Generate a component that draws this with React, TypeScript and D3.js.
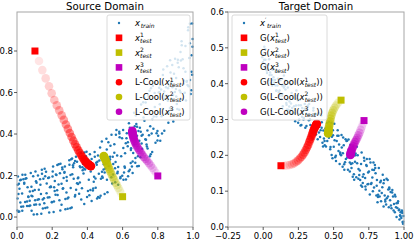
import React from 'react';
import * as d3 from 'd3';

type Pt = [number, number];

// source domain training cloud
const sourceTrain: Pt[] = [
  [0.008,0.026],[0.003,0.089],[0.002,0.031],[0.008,0.111],[0.005,0.195],
  [0.024,0.049],[0.014,0.136],[0.029,0.114],[0.019,0.070],[0.011,0.160],
  [0.036,0.182],[0.047,0.204],[0.041,0.161],[0.031,0.204],[0.046,0.073],
  [0.069,0.053],[0.057,0.075],[0.053,0.187],[0.065,0.097],[0.060,0.143],
  [0.075,0.056],[0.082,0.146],[0.087,0.100],[0.072,0.078],[0.083,0.030],
  [0.092,0.196],[0.103,0.081],[0.098,0.059],[0.108,0.173],[0.105,0.219],
  [0.124,0.131],[0.114,0.014],[0.129,0.061],[0.119,0.200],[0.111,0.165],
  [0.136,0.111],[0.147,0.041],[0.141,0.228],[0.131,0.182],[0.146,0.085],
  [0.169,0.162],[0.157,0.233],[0.153,0.090],[0.165,0.218],[0.160,0.196],
  [0.175,0.094],[0.182,0.190],[0.187,0.143],[0.172,0.046],[0.183,0.022],
  [0.192,0.147],[0.203,0.220],[0.198,0.073],[0.208,0.024],[0.205,0.244],
  [0.224,0.202],[0.214,0.126],[0.229,0.251],[0.219,0.108],[0.211,0.143],
  [0.236,0.157],[0.247,0.257],[0.241,0.081],[0.231,0.106],[0.246,0.031],
  [0.269,0.213],[0.257,0.239],[0.253,0.059],[0.265,0.188],[0.260,0.136],
  [0.275,0.038],[0.282,0.193],[0.287,0.089],[0.272,0.244],[0.283,0.175],
  [0.292,0.094],[0.303,0.042],[0.298,0.252],[0.308,0.278],[0.305,0.140],
  [0.324,0.259],[0.314,0.206],[0.329,0.099],[0.319,0.240],[0.311,0.046],
  [0.336,0.132],[0.347,0.159],[0.341,0.267],[0.331,0.106],[0.346,0.187],
  [0.369,0.139],[0.357,0.166],[0.353,0.112],[0.365,0.085],[0.360,0.240],
  [0.375,0.256],[0.382,0.063],[0.387,0.229],[0.372,0.240],[0.383,0.311],
  [0.392,0.293],[0.403,0.125],[0.398,0.097],[0.408,0.180],[0.405,0.275],
  [0.424,0.077],[0.414,0.303],[0.429,0.247],[0.419,0.219],[0.411,0.105],
  [0.436,0.170],[0.447,0.141],[0.441,0.313],[0.431,0.128],[0.446,0.186],
  [0.469,0.093],[0.457,0.267],[0.453,0.252],[0.465,0.208],[0.460,0.296],
  [0.475,0.102],[0.482,0.364],[0.487,0.189],[0.472,0.335],[0.483,0.218],
  [0.492,0.229],[0.503,0.289],[0.498,0.111],[0.508,0.377],[0.505,0.259],
  [0.524,0.271],[0.514,0.120],[0.529,0.290],[0.519,0.360],[0.511,0.180],
  [0.536,0.192],[0.547,0.255],[0.541,0.162],[0.531,0.344],[0.546,0.205],
  [0.569,0.297],[0.557,0.235],[0.553,0.310],[0.565,0.419],[0.560,0.265],
  [0.575,0.156],[0.582,0.403],[0.587,0.187],[0.572,0.218],[0.583,0.385],
  [0.592,0.293],[0.603,0.419],[0.598,0.199],[0.608,0.215],[0.605,0.180],
  [0.624,0.404],[0.614,0.307],[0.629,0.341],[0.619,0.181],[0.611,0.244],
  [0.636,0.452],[0.647,0.323],[0.641,0.228],[0.631,0.197],[0.646,0.260],
  [0.669,0.438],[0.657,0.212],[0.653,0.244],[0.665,0.502],[0.660,0.308],
  [0.675,0.489],[0.682,0.392],[0.687,0.293],[0.672,0.261],[0.683,0.245],
  [0.692,0.246],[0.703,0.411],[0.698,0.430],[0.708,0.392],[0.705,0.542],
  [0.724,0.464],[0.714,0.396],[0.729,0.375],[0.719,0.480],[0.711,0.329],
  [0.736,0.350],[0.747,0.585],[0.741,0.417],[0.731,0.552],[0.746,0.570],
  [0.769,0.473],[0.757,0.437],[0.753,0.608],[0.765,0.403],[0.760,0.302],
  [0.775,0.426],[0.782,0.598],[0.787,0.358],[0.772,0.632],[0.783,0.530],
  [0.792,0.484],[0.803,0.505],[0.798,0.415],[0.808,0.623],[0.805,0.600],
  [0.824,0.403],[0.814,0.368],[0.829,0.684],[0.819,0.614],[0.811,0.544],
  [0.836,0.605],[0.847,0.625],[0.841,0.570],[0.831,0.711],[0.846,0.499],
  [0.869,0.525],[0.857,0.560],[0.853,0.585],[0.865,0.633],[0.860,0.454],
  [0.875,0.517],[0.882,0.733],[0.887,0.588],[0.872,0.697],[0.883,0.626],
  [0.892,0.691],[0.903,0.617],[0.898,0.763],[0.908,0.545],[0.905,0.581],
  [0.924,0.610],[0.914,0.758],[0.929,0.795],[0.919,0.722],[0.911,0.520],
  [0.936,0.828],[0.947,0.642],[0.941,0.568],[0.931,0.754],[0.946,0.717],
  [0.969,0.636],[0.957,0.824],[0.953,0.599],[0.965,0.655],[0.960,0.562],
  [0.975,0.630],[0.982,0.931],[0.987,0.593],[0.972,0.900],[0.983,0.660],
  [0.992,0.780],[0.997,0.820],[0.998,0.858],[0.992,0.700],[0.995,0.933],
  // second batch
  [0.004,0.156],[0.013,0.027],[0.018,0.177],[0.035,0.051],[0.022,0.180],[0.030,0.030],
  [0.048,0.185],[0.057,0.053],[0.041,0.165],[0.064,0.099],[0.073,0.123],[0.078,0.212],
  [0.095,0.012],[0.082,0.102],[0.090,0.126],[0.108,0.060],[0.117,0.083],[0.101,0.130],
  [0.124,0.086],[0.133,0.156],[0.138,0.016],[0.155,0.066],[0.142,0.208],[0.150,0.184],
  [0.168,0.115],[0.177,0.188],[0.161,0.044],[0.184,0.095],[0.193,0.145],[0.198,0.071],
  [0.215,0.174],[0.202,0.195],[0.210,0.075],[0.228,0.129],[0.237,0.254],[0.221,0.205],
  [0.244,0.211],[0.253,0.160],[0.258,0.230],[0.275,0.087],[0.262,0.139],[0.270,0.217],
  [0.288,0.040],[0.297,0.274],[0.281,0.118],[0.304,0.203],[0.313,0.282],[0.318,0.250],
  [0.335,0.290],[0.322,0.184],[0.330,0.270],[0.348,0.191],[0.357,0.245],[0.341,0.163],
  [0.364,0.308],[0.373,0.226],[0.378,0.210],[0.395,0.315],[0.382,0.233],[0.390,0.260],
  [0.408,0.243],[0.417,0.130],[0.401,0.270],[0.424,0.280],[0.433,0.138],[0.438,0.194],
  [0.455,0.089],[0.442,0.290],[0.450,0.262],[0.468,0.272],[0.477,0.184],[0.461,0.097],
  [0.484,0.195],[0.493,0.254],[0.498,0.215],[0.515,0.266],[0.502,0.234],[0.510,0.325],
  [0.528,0.278],[0.537,0.397],[0.521,0.246],[0.544,0.291],[0.553,0.351],[0.558,0.168],
  [0.575,0.241],[0.562,0.396],[0.570,0.211],[0.588,0.193],[0.597,0.380],[0.581,0.411],
  [0.604,0.333],[0.613,0.238],[0.618,0.355],[0.635,0.221],[0.622,0.380],[0.630,0.360],
  [0.648,0.332],[0.657,0.268],[0.641,0.430],[0.664,0.349],[0.673,0.284],[0.678,0.448],
  [0.695,0.368],[0.682,0.435],[0.690,0.415],[0.708,0.354],[0.717,0.553],[0.701,0.288],
  [0.724,0.574],[0.733,0.373],[0.738,0.340],[0.755,0.293],[0.742,0.330],[0.750,0.394],
  [0.768,0.313],[0.777,0.485],[0.761,0.621],[0.784,0.645],[0.793,0.404],[0.798,0.369],
  [0.815,0.636],[0.802,0.392],[0.810,0.601],[0.828,0.521],[0.837,0.416],[0.821,0.486],
  [0.844,0.584],[0.853,0.726],[0.858,0.620],[0.875,0.647],[0.862,0.503],[0.870,0.755],
  [0.888,0.460],[0.897,0.603],[0.881,0.567],[0.904,0.670],[0.913,0.743],[0.918,0.559],
  [0.935,0.847],[0.922,0.517],[0.930,0.600],[0.948,0.658],[0.957,0.700],[0.941,0.760],
  [0.964,0.652],[0.973,0.915],[0.978,0.766],[0.995,0.686],[0.982,0.838],[0.990,0.611],
];

// target domain training cloud
const targetTrain: Pt[] = [
  [-0.007,0.474],[0.004,0.481],[-0.002,0.460],[0.008,0.503],
  [0.025,0.437],[0.012,0.445],[0.021,0.452],[0.016,0.467],
  [0.037,0.409],[0.049,0.431],[0.031,0.438],[0.042,0.468],
  [0.067,0.439],[0.055,0.402],[0.063,0.395],[0.059,0.424],
  [0.073,0.418],[0.084,0.410],[0.078,0.403],[0.088,0.395],
  [0.105,0.414],[0.092,0.380],[0.101,0.395],[0.096,0.433],
  [0.117,0.366],[0.129,0.357],[0.111,0.376],[0.122,0.410],
  [0.147,0.423],[0.135,0.366],[0.143,0.394],[0.139,0.337],
  [0.153,0.394],[0.164,0.346],[0.158,0.384],[0.168,0.327],
  [0.185,0.336],[0.172,0.355],[0.181,0.403],[0.176,0.327],
  [0.197,0.345],[0.209,0.317],[0.191,0.326],[0.202,0.374],
  [0.227,0.328],[0.215,0.366],[0.223,0.318],[0.219,0.337],
  [0.233,0.339],[0.244,0.367],[0.238,0.358],[0.248,0.291],
  [0.265,0.283],[0.252,0.340],[0.261,0.355],[0.256,0.300],
  [0.277,0.332],[0.289,0.304],[0.271,0.285],[0.282,0.323],
  [0.307,0.315],[0.295,0.343],[0.303,0.328],[0.299,0.277],
  [0.313,0.327],[0.324,0.298],[0.318,0.336],[0.328,0.315],
  [0.345,0.263],[0.332,0.301],[0.341,0.272],[0.336,0.253],
  [0.357,0.332],[0.369,0.265],[0.351,0.246],[0.362,0.315],
  [0.387,0.296],[0.375,0.258],[0.383,0.315],[0.379,0.270],
  [0.393,0.318],[0.404,0.251],[0.398,0.280],[0.408,0.270],
  [0.425,0.225],[0.412,0.311],[0.421,0.235],[0.416,0.292],
  [0.437,0.228],[0.449,0.266],[0.431,0.247],[0.442,0.275],
  [0.467,0.249],[0.455,0.240],[0.463,0.268],[0.459,0.278],
  [0.473,0.280],[0.484,0.290],[0.478,0.223],[0.488,0.252],
  [0.505,0.288],[0.492,0.192],[0.501,0.224],[0.496,0.256],
  [0.517,0.184],[0.529,0.270],[0.511,0.195],[0.522,0.240],
  [0.547,0.208],[0.535,0.255],[0.543,0.176],[0.539,0.230],
  [0.553,0.200],[0.564,0.168],[0.558,0.222],[0.568,0.250],
  [0.585,0.245],[0.572,0.228],[0.581,0.181],[0.576,0.160],
  [0.597,0.194],[0.609,0.216],[0.591,0.240],[0.602,0.160],
  [0.627,0.165],[0.615,0.155],[0.623,0.176],[0.619,0.229],
  [0.633,0.178],[0.644,0.147],[0.638,0.225],[0.648,0.200],
  [0.665,0.224],[0.652,0.182],[0.661,0.139],[0.656,0.205],
  [0.677,0.162],[0.689,0.131],[0.671,0.200],[0.682,0.145],
  [0.707,0.123],[0.695,0.176],[0.703,0.112],[0.699,0.208],
  [0.713,0.147],[0.724,0.137],[0.718,0.185],[0.728,0.105],
  [0.745,0.152],[0.732,0.173],[0.741,0.119],[0.736,0.190],
  [0.757,0.091],[0.769,0.123],[0.751,0.155],[0.762,0.180],
  [0.787,0.159],[0.775,0.138],[0.783,0.180],[0.779,0.100],
  [0.793,0.173],[0.804,0.088],[0.798,0.150],[0.808,0.131],
  [0.825,0.101],[0.812,0.069],[0.821,0.165],[0.816,0.090],
  [0.837,0.072],[0.849,0.146],[0.831,0.125],[0.842,0.095],
  [0.867,0.071],[0.855,0.122],[0.863,0.088],[0.859,0.131],
  [0.873,0.063],[0.884,0.131],[0.878,0.080],[0.888,0.105],
  [0.905,0.098],[0.892,0.055],[0.901,0.075],[0.896,0.106],
  [0.917,0.103],[0.929,0.064],[0.911,0.052],[0.922,0.085],
  [0.947,0.066],[0.935,0.041],[0.943,0.055],[0.939,0.085],
  [0.953,0.053],[0.964,0.047],[0.958,0.072],[0.968,0.021],
  [0.985,0.046],[0.972,0.033],[0.981,0.025],[0.976,0.041],
  [0.993,0.009],[0.990,0.014],[0.996,0.031],[0.988,0.039],
  // second batch
  [0.006,0.467],[0.015,0.496],[0.036,0.453],[0.027,0.430],[0.046,0.424],[0.055,0.402],
  [0.076,0.440],[0.067,0.410],[0.086,0.433],[0.095,0.381],[0.116,0.381],[0.107,0.405],
  [0.126,0.371],[0.135,0.395],[0.156,0.408],[0.147,0.389],[0.166,0.341],[0.175,0.389],
  [0.196,0.398],[0.187,0.350],[0.206,0.332],[0.215,0.360],[0.236,0.381],[0.227,0.295],
  [0.246,0.354],[0.255,0.315],[0.276,0.308],[0.267,0.340],[0.286,0.300],[0.295,0.330],
  [0.316,0.339],[0.307,0.282],[0.326,0.343],[0.335,0.285],[0.356,0.325],[0.347,0.249],
  [0.366,0.310],[0.375,0.291],[0.396,0.264],[0.387,0.245],[0.406,0.315],[0.415,0.277],
  [0.436,0.240],[0.427,0.269],[0.446,0.225],[0.455,0.290],[0.476,0.217],[0.467,0.293],
  [0.486,0.201],[0.495,0.270],[0.516,0.199],[0.507,0.242],[0.526,0.255],[0.535,0.212],
  [0.556,0.257],[0.547,0.204],[0.566,0.206],[0.575,0.175],[0.596,0.241],[0.587,0.190],
  [0.606,0.244],[0.615,0.180],[0.636,0.140],[0.627,0.215],[0.646,0.132],[0.655,0.200],
  [0.676,0.135],[0.667,0.178],[0.686,0.158],[0.695,0.116],[0.716,0.193],[0.707,0.140],
  [0.726,0.113],[0.735,0.170],[0.756,0.190],[0.747,0.120],[0.766,0.120],[0.775,0.160],
  [0.796,0.165],[0.787,0.110],[0.806,0.115],[0.815,0.084],[0.836,0.129],[0.827,0.085],
  [0.846,0.111],[0.855,0.057],[0.876,0.135],[0.867,0.076],[0.886,0.085],[0.895,0.110],
  [0.916,0.096],[0.907,0.060],[0.926,0.046],[0.935,0.090],[0.956,0.067],[0.947,0.028],
  [0.966,0.049],[0.975,0.030],[0.986,0.043],[0.995,0.015],
];

// test points (squares)
const sourceTests: Pt[] = [[0.102, 0.8], [0.6, 0.098], [0.8, 0.198]];
const targetTests: Pt[] = [[0.126, 0.171], [0.553, 0.354], [0.716, 0.297]];

// L-Cool trajectories, first step to last
const sourcePaths: Pt[][] = [
  [[0.125,0.752],[0.144,0.708],[0.163,0.668],[0.182,0.630],[0.197,0.596],[0.212,0.564],[0.226,0.538],
   [0.240,0.514],[0.254,0.490],[0.266,0.468],[0.278,0.446],[0.289,0.425],[0.300,0.405],[0.310,0.386],
   [0.320,0.368],[0.330,0.351],[0.339,0.336],[0.348,0.322],[0.356,0.310],[0.364,0.299],[0.371,0.289],
   [0.378,0.280],[0.384,0.273],[0.390,0.267],[0.395,0.262],[0.400,0.258],[0.404,0.255],[0.408,0.252],
   [0.411,0.250],[0.414,0.248],[0.416,0.247],[0.418,0.246],[0.420,0.245]],
  [[0.592,0.114],[0.584,0.127],[0.576,0.140],[0.568,0.153],[0.560,0.166],[0.552,0.179],[0.545,0.192],
   [0.538,0.205],[0.531,0.218],[0.525,0.230],[0.519,0.242],[0.514,0.253],[0.509,0.263],[0.505,0.272],
   [0.501,0.279],[0.498,0.285],[0.496,0.289],[0.494,0.292],[0.493,0.294]],
  [[0.790,0.212],[0.780,0.224],[0.770,0.236],[0.760,0.248],[0.750,0.259],[0.740,0.270],[0.730,0.280],
   [0.720,0.290],[0.711,0.301],[0.702,0.312],[0.694,0.323],[0.686,0.334],[0.679,0.345],[0.673,0.356],
   [0.668,0.366],[0.664,0.376],[0.661,0.385],[0.659,0.393],[0.657,0.400],[0.656,0.406],[0.655,0.411],
   [0.655,0.415]],
];
const targetPaths: Pt[][] = [
  [[0.150,0.171],[0.170,0.172],[0.188,0.173],[0.205,0.175],[0.220,0.178],[0.235,0.182],[0.248,0.186],
   [0.260,0.191],[0.272,0.196],[0.283,0.202],[0.293,0.208],[0.302,0.215],[0.311,0.222],[0.319,0.229],
   [0.327,0.237],[0.334,0.244],[0.341,0.251],[0.347,0.258],[0.353,0.264],[0.358,0.270],[0.363,0.275],
   [0.368,0.279],[0.372,0.282],[0.376,0.285],[0.379,0.287],[0.381,0.288]],
  [[0.540,0.350],[0.528,0.345],[0.517,0.339],[0.507,0.333],[0.498,0.326],[0.490,0.319],[0.484,0.311],
   [0.479,0.303],[0.475,0.295],[0.471,0.288],[0.468,0.281],[0.466,0.275],[0.464,0.270],[0.463,0.266],
   [0.462,0.263],[0.461,0.261]],
  [[0.708,0.288],[0.700,0.279],[0.692,0.271],[0.684,0.263],[0.676,0.256],[0.668,0.249],[0.660,0.243],
   [0.652,0.237],[0.645,0.231],[0.639,0.225],[0.633,0.220],[0.628,0.215],[0.625,0.211],[0.622,0.208],
   [0.621,0.205],[0.620,0.203],[0.620,0.201]],
];

const testColors = ['#ff0000', '#bfbf00', '#bf00bf'];
const trainColor = '#1f77b4';

const sourceXTicks = [0, 0.2, 0.4, 0.6, 0.8, 1.0];
const sourceYTicks = [0, 0.2, 0.4, 0.6, 0.8];
const targetXTicks = [-0.25, 0, 0.25, 0.5, 0.75, 1.0];
const targetYTicks = [0, 0.1, 0.2, 0.3, 0.4, 0.5, 0.6];

interface Label { pre: string; sup: string; sub: string; post: string }

const sourceLabels: Label[] = [
  { pre: '', sup: '', sub: 'train', post: '' },
  { pre: '', sup: '1', sub: 'test', post: '' },
  { pre: '', sup: '2', sub: 'test', post: '' },
  { pre: '', sup: '3', sub: 'test', post: '' },
  { pre: 'L-Cool(', sup: '1', sub: 'test', post: ')' },
  { pre: 'L-Cool(', sup: '2', sub: 'test', post: ')' },
  { pre: 'L-Cool(', sup: '3', sub: 'test', post: ')' },
];
const targetLabels: Label[] = [
  { pre: '', sup: '′', sub: 'train', post: '' },
  { pre: 'G(', sup: '1', sub: 'test', post: ')' },
  { pre: 'G(', sup: '2', sub: 'test', post: ')' },
  { pre: 'G(', sup: '3', sub: 'test', post: ')' },
  { pre: 'G(L-Cool(', sup: '1', sub: 'test', post: '))' },
  { pre: 'G(L-Cool(', sup: '2', sub: 'test', post: '))' },
  { pre: 'G(L-Cool(', sup: '3', sub: 'test', post: '))' },
];

const FONT = 'DejaVu Sans, sans-serif';
const TICK_FS = 8.5;
const SMALL_FS = 6;

const MathLabel: React.FC<{ x: number; y: number; label: Label }> = ({ x, y, label }) => {
  const { pre, sup, sub, post } = label;
  const prime = sup === '′';
  return (
    <text x={x} y={y} fontSize={TICK_FS} fill="#000">
      {pre}
      <tspan fontStyle="italic">x</tspan>
      {sup && <tspan fontSize={SMALL_FS} dy={-3.6}>{sup}</tspan>}
      <tspan fontSize={SMALL_FS} fontStyle="italic"
        dx={sup ? (prime ? 0.6 : -3.8) : 0.6} dy={sup ? 5.8 : 2.2}>{sub}</tspan>
      {post && <tspan dy={-2.2}>{post}</tspan>}
    </text>
  );
};

interface PanelProps {
  title: string;
  left: number; right: number; top: number; bottom: number;
  xDomain: [number, number]; yDomain: [number, number];
  xTicks: number[]; yTicks: number[];
  xFmt: (n: number) => string; yFmt: (n: number) => string;
  train: Pt[]; tests: Pt[]; paths: Pt[][];
  labels: Label[];
  legendX: number; legendW: number;
}

const Panel: React.FC<PanelProps> = (p) => {
  const x = d3.scaleLinear().domain(p.xDomain).range([p.left, p.right]);
  const y = d3.scaleLinear().domain(p.yDomain).range([p.bottom, p.top]);
  const legendTop = p.top + 3;
  const rowY = (i: number) => legendTop + 8 + i * 14.8;
  const markerX = p.legendX + 12;
  const textX = p.legendX + 28;

  return (
    <g fontFamily={FONT}>
      <text x={(p.left + p.right) / 2} y={p.top - 2.5} fontSize={10.2} textAnchor="middle">{p.title}</text>

      {/* training cloud */}
      <g fill={trainColor}>
        {p.train.map((d, i) => <circle key={i} cx={x(d[0])} cy={y(d[1])} r={1.25} />)}
      </g>

      {/* test points */}
      {p.tests.map((d, i) => (
        <rect key={i} x={x(d[0]) - 3.5} y={y(d[1]) - 3.5} width={7} height={7} fill={testColors[i]} />
      ))}

      {/* trajectories, fading in toward the end */}
      {p.paths.map((path, k) => (
        <g key={k} fill={testColors[k]}>
          {path.map((d, i) => (
            <circle key={i} cx={x(d[0])} cy={y(d[1])} r={4.3}
              fillOpacity={0.1 + 0.9 * (i / (path.length - 1))} />
          ))}
        </g>
      ))}

      {/* frame */}
      <rect x={p.left} y={p.top} width={p.right - p.left} height={p.bottom - p.top}
        fill="none" stroke="#a6a6a6" strokeWidth={1} />

      {/* x axis */}
      {p.xTicks.map((t) => (
        <g key={t}>
          <line x1={x(t)} x2={x(t)} y1={p.bottom} y2={p.bottom + 3} stroke="#333" strokeWidth={0.8} />
          <text x={x(t)} y={p.bottom + 11.5} fontSize={TICK_FS} textAnchor="middle">{p.xFmt(t)}</text>
        </g>
      ))}
      {/* y axis */}
      {p.yTicks.map((t) => (
        <g key={t}>
          <line x1={p.left - 3} x2={p.left} y1={y(t)} y2={y(t)} stroke="#333" strokeWidth={0.8} />
          <text x={p.left - 4} y={y(t) + 3} fontSize={TICK_FS} textAnchor="end">{p.yFmt(t)}</text>
        </g>
      ))}

      {/* legend */}
      <rect x={p.legendX} y={legendTop} width={p.legendW} height={105} rx={2}
        fill="#fff" fillOpacity={0.8} stroke="#d0d0d0" strokeWidth={0.8} />
      {p.labels.map((lab, i) => {
        const cy = rowY(i);
        let marker: React.ReactNode;
        if (i === 0) marker = <circle cx={markerX} cy={cy} r={1.2} fill={trainColor} />;
        else if (i < 4) marker = <rect x={markerX - 3.3} y={cy - 3.3} width={6.6} height={6.6} fill={testColors[i - 1]} />;
        else marker = <circle cx={markerX} cy={cy} r={3.3} fill={testColors[i - 4]} />;
        return (
          <g key={i}>
            {marker}
            <MathLabel x={textX} y={cy + 3} label={lab} />
          </g>
        );
      })}
    </g>
  );
};

const fmt1 = d3.format('.1f');
const fmt2 = d3.format('.2f');

export default function App() {
  return (
    <div style={{ position: 'fixed', left: 0, top: 0 }}>
      <svg width={415} height={240} style={{ display: 'block', background: '#fff' }}>
        <Panel title="Source Domain" left={17} right={193} top={12} bottom={227}
          xDomain={[0, 1]} yDomain={[-0.048, 0.988]}
          xTicks={sourceXTicks} yTicks={sourceYTicks} xFmt={fmt1} yFmt={fmt1}
          train={sourceTrain} tests={sourceTests} paths={sourcePaths}
          labels={sourceLabels} legendX={107} legendW={83} />
        <Panel title="Target Domain" left={228} right={404} top={12} bottom={227}
          xDomain={[-0.25, 1]} yDomain={[0, 0.6]}
          xTicks={targetXTicks} yTicks={targetYTicks} xFmt={fmt2} yFmt={fmt1}
          train={targetTrain} tests={targetTests} paths={targetPaths}
          labels={targetLabels} legendX={232} legendW={95} />
      </svg>
    </div>
  );
}
